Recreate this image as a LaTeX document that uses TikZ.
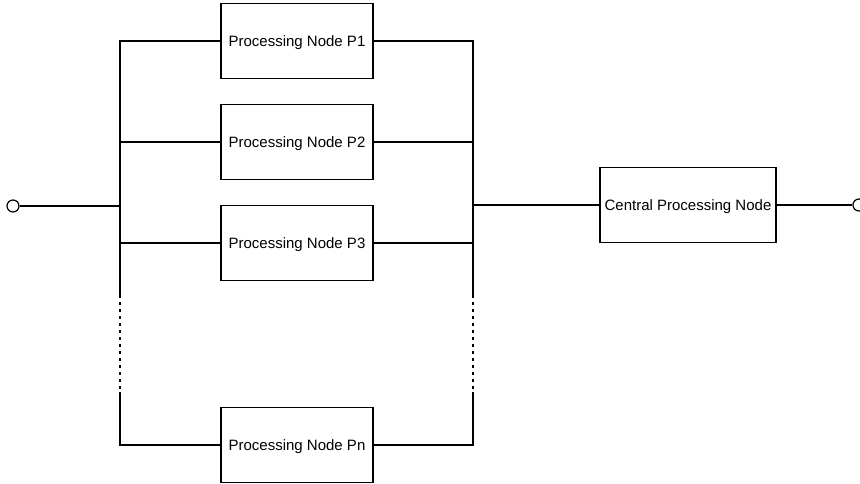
\documentclass[tikz,border=0pt]{standalone}
\usepackage{fontspec}
\setmainfont{Liberation Sans}
\begin{document}
\begin{tikzpicture}[x=1pt,y=-1pt,
  line width=1.2pt,
  procbox/.style={draw, line width=1.2pt, minimum width=152pt, minimum height=75pt,
    inner sep=0pt, text depth=0pt, font=\fontsize{15}{18}\selectfont},
  terminal/.style={draw, circle, line width=1.2pt, minimum size=12pt, inner sep=0pt},
  gap/.style={dash pattern=on 3pt off 4pt}]
\useasboundingbox (0,0) rectangle (860,484);

% parallel processing nodes
\node[procbox] (p1) at (297,41) {Processing Node P1};
\node[procbox] (p2) at (297,142) {Processing Node P2};
\node[procbox] (p3) at (297,243) {Processing Node P3};
\node[procbox] (pn) at (297,445) {Processing Node Pn};

% central node
\node[procbox, minimum width=176pt] (cpn) at (688,205) {Central Processing Node};

% terminals
\node[terminal] (in) at (13,206) {};
\node[terminal] (out) at (859,205) {};

% left bus
\coordinate (lt) at (120,41);
\coordinate (lm) at (120,206);
\coordinate (la) at (120,295);
\coordinate (lb) at (120,392);
\coordinate (lbot) at (120,445);
\draw (p1.west) -- (lt) -- (la);
\draw[gap] (la) -- (lb);
\draw (lb) -- (lbot) -- (pn.west);
\draw (lt |- p2.west) -- (p2.west);
\draw (lt |- p3.west) -- (p3.west);
\draw (in) -- (lm);

% right bus
\coordinate (rt) at (473,41);
\coordinate (rm) at (473,205);
\coordinate (ra) at (473,295);
\coordinate (rb) at (473,392);
\coordinate (rbot) at (473,445);
\draw (p1.east) -- (rt) -- (ra);
\draw[gap] (ra) -- (rb);
\draw (rb) -- (rbot) -- (pn.east);
\draw (p2.east) -- (rt |- p2.east);
\draw (p3.east) -- (rt |- p3.east);
\draw (rm) -- (cpn.west);
\draw (cpn.east) -- (out);
\end{tikzpicture}
\end{document}
